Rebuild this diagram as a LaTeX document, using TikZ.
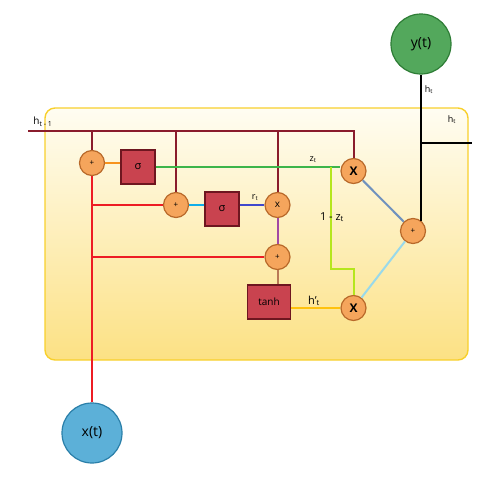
\documentclass[tikz,border=0pt]{standalone}
\usepackage{fontspec}
\setmainfont{Open Sans}
\definecolor{wineline}{HTML}{8A1C2C}
\definecolor{redline}{HTML}{ED1C24}
\definecolor{orangeline}{HTML}{F7931E}
\definecolor{greenline}{HTML}{3DB54A}
\definecolor{cyanline}{HTML}{10AEEA}
\definecolor{blueline}{HTML}{3F48CC}
\definecolor{purpleline}{HTML}{A349A4}
\definecolor{brownline}{HTML}{B97A57}
\definecolor{yellowline}{HTML}{FFC20E}
\definecolor{limeline}{HTML}{B5E61D}
\definecolor{steelline}{HTML}{7092BE}
\definecolor{skyline}{HTML}{99D9EA}
\definecolor{gatefill}{HTML}{F5A55C}
\definecolor{gatedraw}{HTML}{B8692A}
\definecolor{actfill}{HTML}{C9434F}
\definecolor{actdraw}{HTML}{6E1620}
\definecolor{cellborder}{HTML}{F8D02C}
\definecolor{celltop}{HTML}{FFFDF2}
\definecolor{cellbottom}{HTML}{FCE184}
\definecolor{outfill}{HTML}{53A85C}
\definecolor{outdraw}{HTML}{2E7D36}
\definecolor{infill}{HTML}{5CB0D8}
\definecolor{indraw}{HTML}{2A7FA9}
\begin{document}
\begin{tikzpicture}[x=1pt,y=-1pt,
    gate/.style={circle, draw=gatedraw, fill=gatefill, line width=1.2pt, minimum size=25pt, inner sep=0pt, font=\fontsize{8}{8}\selectfont},
    act/.style={rectangle, draw=actdraw, fill=actfill, line width=1.2pt, minimum size=34pt, inner sep=0pt, font=\fontsize{11}{11}\selectfont},
    io/.style={circle, line width=1.2pt, minimum size=60pt, inner sep=0pt, font=\fontsize{14}{14}\selectfont},
    lbl/.style={inner sep=1pt, font=\fontsize{9}{9}\selectfont},
    wire/.style={line width=2pt}]
  \useasboundingbox (0,0) rectangle (488,477);

  % Cell
  \draw[cellborder, line width=1.4pt, rounded corners=10pt, top color=celltop, bottom color=cellbottom] (45,108) rectangle (468,360);

  % Inputs and output
  \node[io, draw=outdraw, fill=outfill] (yt) at (421,44) {y(t)};
  \node[io, draw=indraw, fill=infill] (xt) at (92,433) {x(t)};

  % Gates
  \node[gate] (g1) at (92,163) {+};
  \node[act] (s1) at (138,167) {σ};
  \node[gate] (g2) at (176,205) {+};
  \node[act] (s2) at (222,209) {σ};
  \node[gate, font=\fontsize{10}{10}\selectfont] (mr) at (277.5,205) {x};
  \node[gate] (g3) at (277.5,257) {+};
  \node[act, minimum width=43pt, font=\fontsize{10}{10}\selectfont] (th) at (269,302) {tanh};
  \node[gate, font=\fontsize{12}{12}\selectfont\bfseries] (mz) at (353.5,171) {X};
  \node[gate, font=\fontsize{12}{12}\selectfont\bfseries] (mnz) at (353.5,308) {X};
  \node[gate] (g4) at (413,231) {+};

  \coordinate (hin) at (28,130.5);
  \coordinate (hend) at (353.5,130.5);
  \coordinate (zsplit) at (331,167);
  \coordinate (zbend) at (331,269);
  \coordinate (zbendb) at (353.5,269);
  \coordinate (sumtop) at (421,221);
  \coordinate (hfork) at (421,143);
  \coordinate (hout) at (472,143);

  % Previous state
  \draw[wire, wineline] (hin) -- (hend) -- (mz);
  \draw[wire, wineline] (g1 |- hin) -- (g1);
  \draw[wire, wineline] (g2 |- hin) -- (g2);
  \draw[wire, wineline] (mr |- hin) -- (mr);

  % Input
  \draw[wire, redline] (xt) -- (g1);
  \draw[wire, redline] (g1 |- g2) -- (g2);
  \draw[wire, redline] (g1 |- g3) -- (g3);

  % Update and reset gates
  \draw[wire, orangeline] (g1) -- (s1.west |- g1);
  \draw[wire, greenline] (s1.east) -- (s1.east -| mz.west);
  \draw[wire, cyanline] (g2) -- (s2.west |- g2);
  \draw[wire, blueline] (s2.east |- mr) -- (mr);
  \draw[wire, purpleline] (mr) -- (g3);
  \draw[wire, brownline] (g3) -- (g3 |- th.north);
  \draw[wire, yellowline] (th.east |- mnz) -- (mnz);
  \draw[wire, limeline] (zsplit) -- (zbend) -- (zbendb) -- (mnz);

  % New state
  \draw[wire, steelline] (mz) -- (g4);
  \draw[wire, skyline] (mnz) -- (g4);
  \draw[wire, black, line width=2.4pt] (sumtop) -- (yt);
  \draw[wire, black, line width=2.4pt] (hfork) -- (hout);

  % Labels
  \node[lbl, font=\fontsize{10}{10}\selectfont] (lhprev) at (43,122) {h\textsubscript{t - 1}};
  \node[lbl] (lz) at (313,160) {z\textsubscript{t}};
  \node[lbl] (lr) at (255,198) {r\textsubscript{t}};
  \node[lbl, font=\fontsize{11}{11}\selectfont] (lonez) at (332,217) {1 - z\textsubscript{t}};
  \node[lbl, font=\fontsize{11}{11}\selectfont] (lhcand) at (314,301) {h'\textsubscript{t}};
  \node[lbl] (lhcell) at (452,120) {h\textsubscript{t}};
  \node[lbl] (lhy) at (429,90) {h\textsubscript{t}};
\end{tikzpicture}
\end{document}
